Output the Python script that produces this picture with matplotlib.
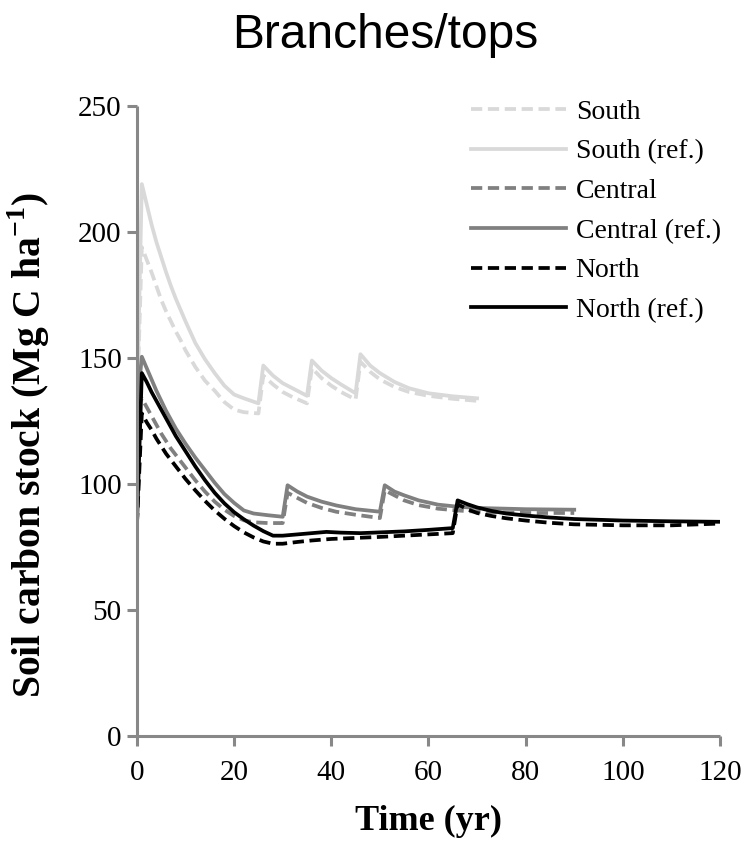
import matplotlib
matplotlib.use('Agg')
import matplotlib.pyplot as plt

# values (time in yr, soil carbon stock in Mg C/ha)
south_ref_t = [0, 1, 2, 3, 4, 5, 6, 7, 8, 9, 10, 12, 14, 16, 18, 20, 22, 25,
	26, 28, 30, 32, 35, 36, 38, 40, 42, 45, 46, 48, 50, 53, 56, 60, 65, 70]
south_ref_y = [130, 219, 211, 203, 196, 190, 184, 178.5, 173.5, 169, 164.5, 156, 149.5, 144, 139, 135.5, 134, 132,
	147, 143, 140, 138, 135, 149, 145, 142, 139.5, 136, 151.5, 147, 144, 140.5, 138, 136, 134.8, 134]

south_t = [0, 1, 2, 3, 4, 5, 6, 7, 8, 9, 10, 12, 14, 16, 18, 20, 22, 25,
	26, 28, 30, 32, 35, 36, 38, 40, 42, 45, 46, 48, 50, 53, 56, 60, 65, 70]
south_y = [130, 194, 189, 184, 178.5, 173, 168.5, 164.5, 160.5, 157, 153, 146.5, 141, 137, 132.5, 129.5, 128.5, 128,
	143, 139.5, 136.5, 134.5, 132, 146, 142, 139, 136.5, 133.5, 148.5, 144.5, 141.5, 138.5, 136.5, 135, 133.8, 133]

central_ref_t = [0, 1, 2, 3, 4, 5, 6, 7, 8, 9, 10, 12, 14, 16, 18, 20, 22, 24, 27, 30,
	31, 33, 35, 38, 41, 45, 50, 51, 53, 55, 58, 62, 66, 70, 80, 90]
central_ref_y = [130, 150.5, 146, 141.5, 137, 133, 129, 125.5, 122, 119, 116, 110.5, 105.5, 100.5, 96, 92.5, 89.5, 88.3, 87.6, 87,
	99.5, 97, 95, 93, 91.5, 90, 89, 99.5, 97, 95.5, 93.5, 91.8, 91, 90.5, 90, 89.8]

central_t = [0, 1, 2, 3, 4, 5, 6, 7, 8, 9, 10, 12, 14, 16, 18, 20, 22, 24, 27, 30,
	31, 33, 35, 38, 41, 45, 50, 51, 53, 55, 58, 62, 66, 70, 80, 90]
central_y = [130, 134, 130.5, 127, 123.5, 120, 117, 114, 111.5, 109, 106.5, 101.5, 97, 93, 89.8, 87.3, 85.6, 84.8, 84.5, 84.5,
	96.5, 94.5, 92.5, 90.5, 89, 87.8, 86.5, 97.5, 95.5, 93.5, 91.6, 90.2, 89.5, 89, 88.5, 88.5]

north_ref_t = [0, 1, 2, 3, 4, 5, 6, 7, 8, 9, 10, 12, 14, 16, 18, 20, 22, 24, 26, 28, 30, 33, 36, 39, 42, 46, 50, 55, 60, 65,
	66, 68, 70, 73, 76, 80, 85, 90, 100, 110, 120]
north_ref_y = [84, 144, 140.5, 136.5, 133, 129.5, 126, 122.5, 119, 116, 113, 107, 101.5, 96.5, 92.3, 88.8, 86, 83.5, 81.3, 79.5, 79.5, 80, 80.5, 81, 80.7, 80.5, 80.8, 81.2, 81.8, 82.5,
	93.5, 92, 90.7, 89.3, 88.3, 87.5, 86.7, 86.1, 85.5, 85.2, 85]

north_t = [0, 1, 2, 3, 4, 5, 6, 7, 8, 9, 10, 12, 14, 16, 18, 20, 22, 24, 26, 28, 30, 33, 36, 40, 45, 50, 55, 60, 65,
	66, 68, 70, 73, 76, 80, 85, 90, 100, 110, 120]
north_y = [84, 128, 124.5, 121.5, 118, 115, 112, 109.5, 107, 104.5, 102, 97.5, 93.3, 89.5, 86.2, 83.3, 80.8, 78.8, 77.2, 76.3, 76.3, 77, 77.6, 78.2, 78.6, 79, 79.5, 80, 80.5,
	92, 90, 88.5, 87.3, 86.4, 85.5, 84.6, 84, 83.6, 83.6, 84.3]

series_labels = ["South", "South (ref.)", "Central", "Central (ref.)", "North", "North (ref.)"]

x_ticks = [0, 20, 40, 60, 80, 100, 120]
y_ticks = [0, 50, 100, 150, 200, 250]

LIGHT = '#d9d9d9'
MID = '#808080'
DARK = '#000000'
SPINE = '#888888'
DASH = (3.0, 1.5)


def Plot_Chart(outfile):
	fig = plt.figure(figsize=(7.46, 8.43), dpi=100)
	ax = fig.add_axes([0.1836, 0.1269, 0.7815, 0.7474])

	lw = 2.7
	ax.plot(south_t, south_y, color=LIGHT, lw=lw, dashes=DASH, label=series_labels[0])
	ax.plot(south_ref_t, south_ref_y, color=LIGHT, lw=lw, label=series_labels[1])
	ax.plot(central_t, central_y, color=MID, lw=lw, dashes=DASH, label=series_labels[2])
	ax.plot(central_ref_t, central_ref_y, color=MID, lw=lw, label=series_labels[3])
	ax.plot(north_t, north_y, color=DARK, lw=lw, dashes=DASH, label=series_labels[4])
	ax.plot(north_ref_t, north_ref_y, color=DARK, lw=lw, label=series_labels[5])

	ax.set_xlim(0, 120)
	ax.set_ylim(0, 250)
	ax.set_xticks(x_ticks)
	ax.set_yticks(y_ticks)

	for side in ['top', 'right']:
		ax.spines[side].set_visible(False)
	for side in ['left', 'bottom']:
		ax.spines[side].set_color(SPINE)
		ax.spines[side].set_linewidth(2.2)
		ax.spines[side].set_capstyle('butt')

	ax.tick_params(axis='both', direction='out', length=7, width=2.2, color=SPINE, labelsize=21)
	ax.tick_params(axis='x', pad=10)
	ax.tick_params(axis='y', pad=4)
	for lab in ax.get_xticklabels() + ax.get_yticklabels():
		lab.set_family('Liberation Serif')

	ax.set_xlabel("Time (yr)", family='Liberation Serif', fontweight='bold', fontsize=26, labelpad=14)
	ax.set_ylabel("Soil carbon stock (Mg C ha$^{\\mathbf{-1}}$)", family='Liberation Serif',
		fontweight='bold', fontsize=28.5)
	# the label sits a bit below the middle of the axis in the original
	ax.yaxis.set_label_coords(-0.146, 0.462)

	fig.text(0.516, 0.958, "Branches/tops", family='Liberation Sans', fontsize=34.5,
		ha='center', va='center')

	ax.legend(loc='upper left', bbox_to_anchor=(0.632, 0.882), bbox_transform=fig.transFigure,
		frameon=False, prop={'family': 'Liberation Serif', 'size': 20},
		handlelength=3.4, handletextpad=0.35, labelspacing=0.51, borderpad=0, borderaxespad=0)

	fig.savefig(outfile, dpi=100)
	plt.close(fig)


def main():
	plt.rcParams['mathtext.fontset'] = 'custom'
	plt.rcParams['mathtext.rm'] = 'Liberation Serif'
	plt.rcParams['mathtext.bf'] = 'Liberation Serif:bold'
	Plot_Chart("out.png")


if __name__ == "__main__":
	main()
